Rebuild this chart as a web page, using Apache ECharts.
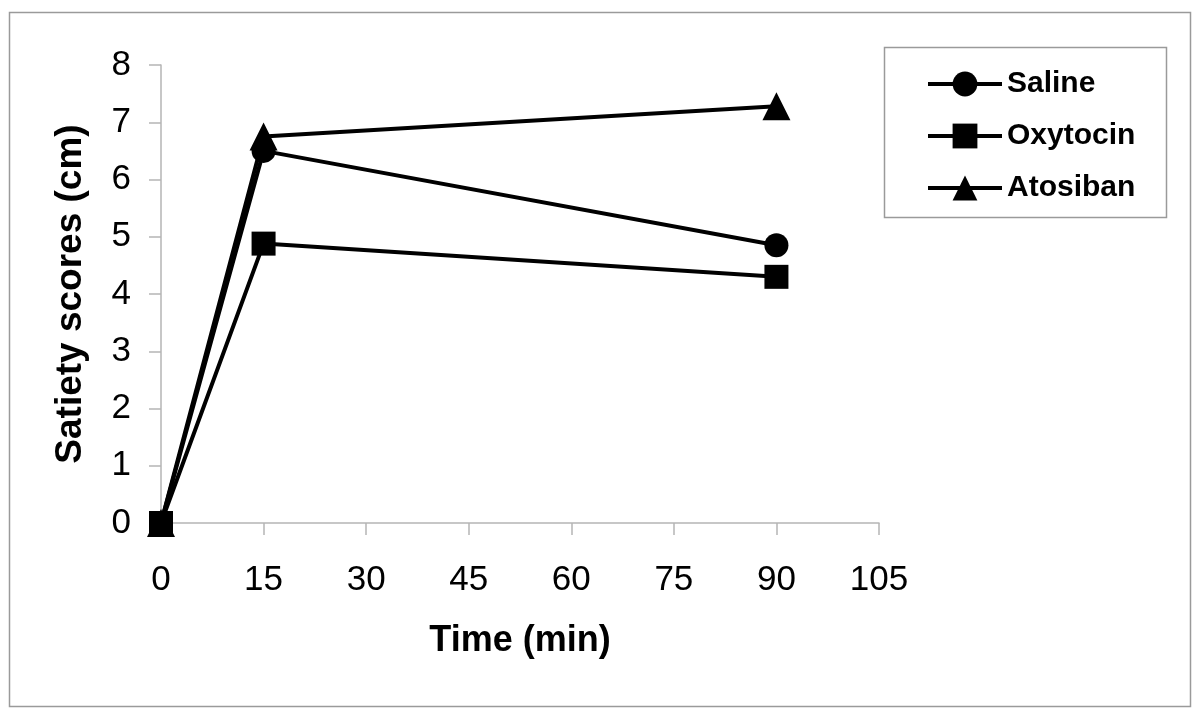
<!DOCTYPE html>
<html>
<head>
<meta charset="utf-8">
<script src="https://cdn.jsdelivr.net/npm/echarts@6/dist/echarts.min.js"></script>
<style>
  html, body { margin: 0; padding: 0; background: #fff; }
  #chart { width: 1200px; height: 716px; }
</style>
</head>
<body>
<div id="chart"></div>
<script>
// time points (min)
const times = [0, 15, 90]
// satiety scores (cm)
const saline = [0, 6.5, 4.85]
const oxytocin = [0, 4.88, 4.3]
const atosiban = [0, 6.75, 7.28]

const xTicks = [0, 15, 30, 45, 60, 75, 90, 105]
const yTicks = [0, 1, 2, 3, 4, 5, 6, 7, 8]

const font = '"Liberation Sans", Arial, sans-serif'

const pairs = (ys) => times.map((t, i) => [t, ys[i]])

const makeSeries = (name, ys, symbol, size) => ({
  name,
  type: 'line',
  data: pairs(ys),
  symbol,
  symbolSize: size,
  showAllSymbol: true,
  lineStyle: { color: '#000', width: 4 },
  itemStyle: { color: '#000', borderWidth: 0 },
  emphasis: { disabled: true },
  z: 3
})

const myChart = echarts.init(document.getElementById('chart'))

myChart.setOption({
  animation: false,
  backgroundColor: '#fff',
  graphic: [
    {
      // outer frame
      type: 'rect',
      shape: { x: 9.5, y: 12.5, width: 1181, height: 694 },
      style: { fill: 'none', stroke: '#9a9a9a', lineWidth: 1.5 },
      z: 0
    },
    {
      // legend box
      type: 'rect',
      shape: { x: 884.5, y: 47.5, width: 282, height: 170 },
      style: { fill: '#fff', stroke: '#9a9a9a', lineWidth: 1.5 },
      z: 0
    }
  ],
  grid: {
    left: 161,
    right: 321,
    top: 65,
    bottom: 193
  },
  legend: {
    orient: 'vertical',
    left: 921,
    top: 64,
    itemWidth: 74,
    itemHeight: 31,
    itemGap: 22,
    selectedMode: false,
    lineStyle: { width: 4, color: '#000' },
    textStyle: {
      fontFamily: font,
      fontWeight: 'bold',
      fontSize: 30,
      color: '#000'
    },
    data: ['Saline', 'Oxytocin', 'Atosiban']
  },
  xAxis: {
    type: 'value',
    min: 0,
    max: 105,
    interval: 15,
    name: 'Time (min)',
    nameLocation: 'middle',
    nameGap: 100,
    nameTextStyle: {
      fontFamily: font,
      fontWeight: 'bold',
      fontSize: 36,
      color: '#000'
    },
    axisLine: { show: true, lineStyle: { color: '#b5b5b5', width: 1.5 } },
    axisTick: { show: true, length: 12, lineStyle: { color: '#b5b5b5', width: 1.5 } },
    axisLabel: {
      fontFamily: font,
      fontSize: 35,
      color: '#000',
      margin: 40,
      formatter: (v) => (xTicks.includes(v) ? String(v) : '')
    },
    splitLine: { show: false }
  },
  yAxis: {
    type: 'value',
    min: 0,
    max: 8,
    interval: 1,
    name: 'Satiety scores (cm)',
    nameLocation: 'middle',
    nameGap: 72,
    nameTextStyle: {
      fontFamily: font,
      fontWeight: 'bold',
      fontSize: 37,
      color: '#000'
    },
    axisLine: { show: true, lineStyle: { color: '#b5b5b5', width: 1.5 } },
    axisTick: { show: true, length: 12, lineStyle: { color: '#b5b5b5', width: 1.5 } },
    axisLabel: {
      fontFamily: font,
      fontSize: 35,
      color: '#000',
      margin: 30,
      formatter: (v) => (yTicks.includes(v) ? String(v) : '')
    },
    splitLine: { show: false }
  },
  series: [
    makeSeries('Saline', saline, 'circle', 24),
    makeSeries('Atosiban', atosiban, 'triangle', 28),
    makeSeries('Oxytocin', oxytocin, 'rect', 24)
  ]
})
</script>
</body>
</html>
